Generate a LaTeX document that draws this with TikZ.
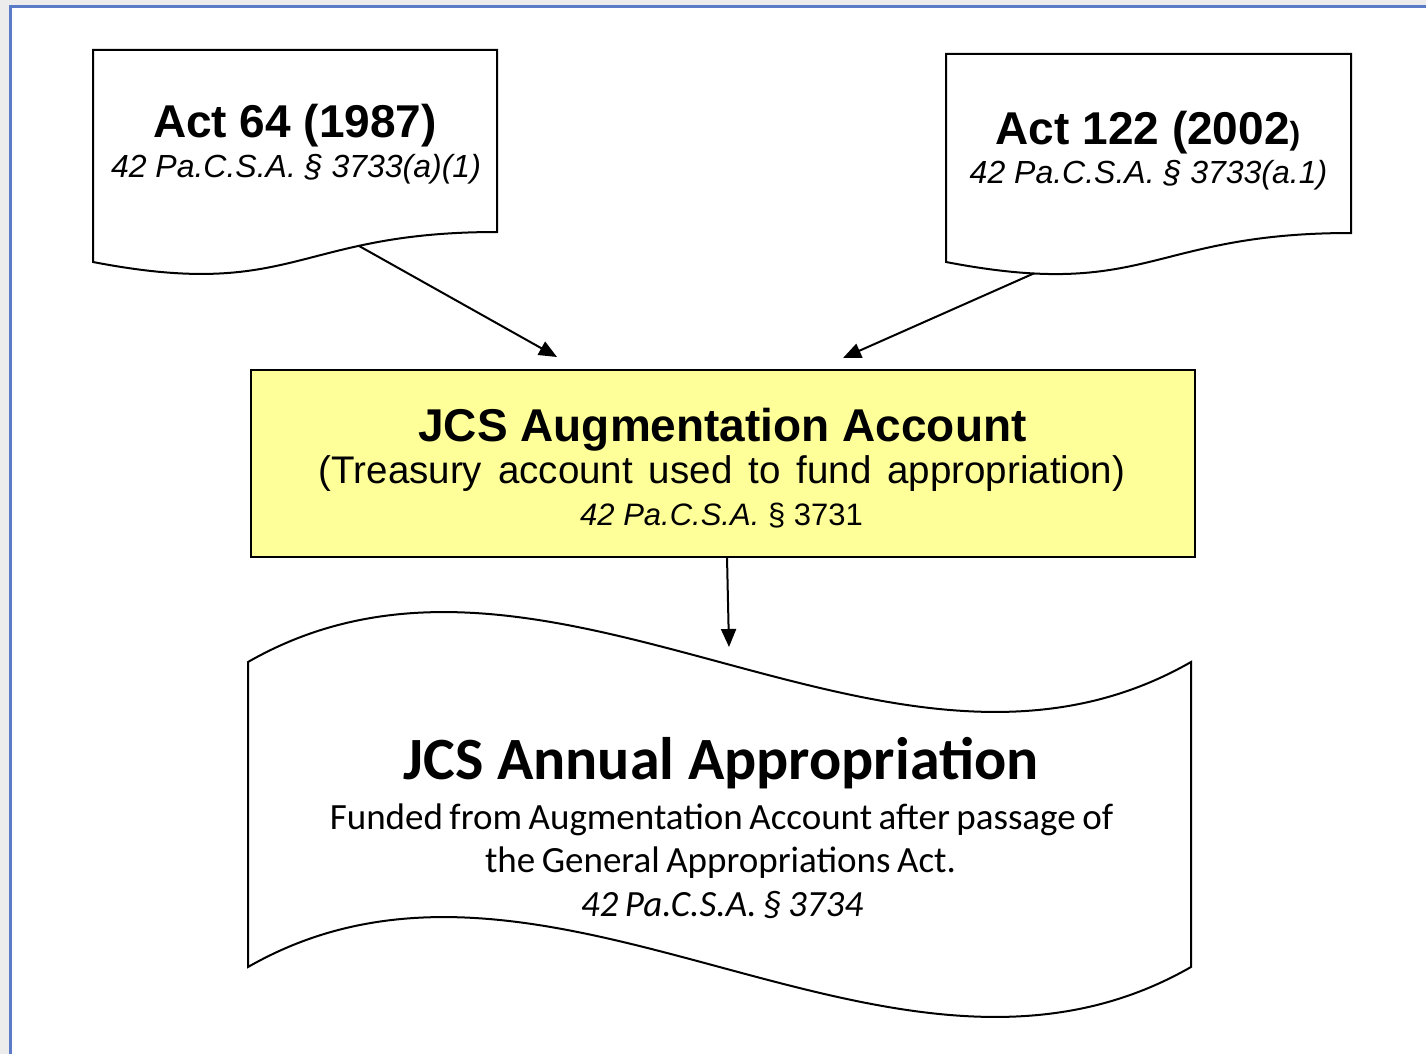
\documentclass[tikz,border=0pt]{standalone}
\usepackage{fontspec}
\setmainfont{Liberation Sans}
\newfontfamily\calib{Carlito}
\usetikzlibrary{arrows.meta}
\definecolor{frameblue}{HTML}{5B7BC8}
\definecolor{outergray}{HTML}{ECECEC}
\definecolor{boxyellow}{HTML}{FFFF99}
\newcommand\myWideSp{\spaceskip=16pt\relax}
\newcommand\myTightSp{\spaceskip=6.5pt\relax}
\begin{document}
\begin{tikzpicture}[x=1pt,y=-1pt,
  docline/.style={draw=black, line width=2pt, line join=miter},
  conn/.style={line width=2pt, -{Triangle[length=18pt,width=15pt]}},
  txt/.style={anchor=base, inner sep=0pt, outer sep=0pt},
  fA/.style={font=\fontsize{46}{50}\selectfont\bfseries},
  fAi/.style={font=\fontsize{32}{35}\selectfont\itshape},
  fB/.style={font=\fontsize{38.5}{42}\selectfont\myWideSp},
  fCt/.style={font=\calib\fontsize{60}{64}\selectfont\bfseries},
  fC/.style={font=\calib\fontsize{37}{40}\selectfont\myTightSp},
  fCi/.style={font=\calib\fontsize{37}{40}\selectfont\itshape\myTightSp}]
\useasboundingbox (0,0) rectangle (1426,1054);
% background frame
\fill[outergray] (0,0) rectangle (1426,1054);
\fill[white] (10,6) rectangle (1426,1054);
\draw[frameblue, line width=2.5pt] (1426,6.5) -- (10.5,6.5) -- (10.5,1054);

% top-left document
\draw[docline, fill=white] (93,50) -- (497,50) -- (497,232)
  .. controls (295,232) and (295,301) .. coordinate[pos=0.3] (d1out) (93,262) -- cycle;
\node[txt, fA] (t1a) at (295,137) {Act 64 (1987)};
\node[txt, fAi] (t1b) at (296,177) {42 Pa.C.S.A. § 3733(a)(1)};

% top-right document
\draw[docline, fill=white] (946,54) -- (1351,54) -- (1351,233)
  .. controls (1148.5,233) and (1148.5,301) .. coordinate[pos=0.83] (d2out) (946,262) -- cycle;
\node[txt, fA] (t2a) at (1148,144) {Act 122 (2002{\fontsize{32}{34}\selectfont)}};
\node[txt, fAi] (t2b) at (1148.5,183) {42 Pa.C.S.A. § 3733(a.1)};

% yellow account box
\node[draw=black, line width=2pt, fill=boxyellow, minimum width=944pt, minimum height=187pt,
  inner sep=0pt] (acct) at (723,463.5) {};
\node[txt, fA] (t3a) at (722.5,441) {JCS Augmentation Account};
\node[txt, fB] (t3b) at (722,483) {(Treasury account used to fund appropriation)};
\node[txt, font=\fontsize{31}{34}\selectfont] (t3c) at (721.5,525) {\textit{42 Pa.C.S.A.} § 3731};

% bottom tape shape
\draw[docline, fill=white] (248,662)
  .. controls (550,489) and (889,835) .. (1191,662)
  -- (1191,967)
  .. controls (889,1140) and (550,794) .. (248,967) -- cycle;
\node[txt, fCt] (t4a) at (721,779) {JCS Annual Appropriation};
\node[txt, fC] (t4b) at (721.5,829) {Funded from Augmentation Account after passage of};
\node[txt, fC] (t4c) at (720.5,872) {the General Appropriations Act.};
\node[txt, fCi] (t4d) at (722,916) {42 Pa.C.S.A. § 3734};

% connectors
\coordinate (a1tip) at (557,357);
\coordinate (a2tip) at (843,358);
\coordinate (a3top) at (727,557);
\coordinate (a3tip) at (729,647);
\draw[conn] (d1out) -- (a1tip);
\draw[conn] (d2out) -- (a2tip);
\draw[conn] (a3top) -- (a3tip);
\end{tikzpicture}
\end{document}
